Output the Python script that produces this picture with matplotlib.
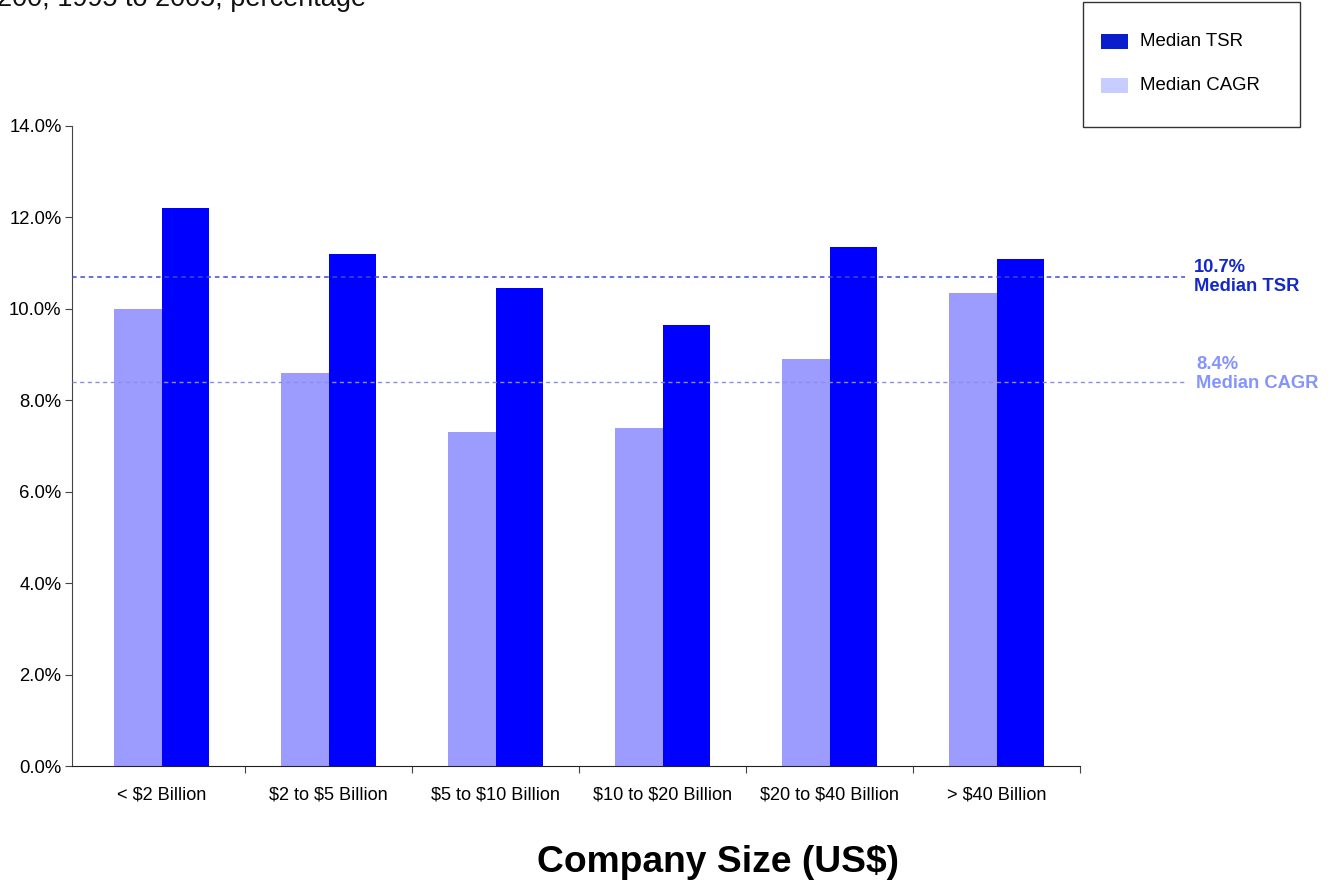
import matplotlib
matplotlib.use("Agg")
import matplotlib.pyplot as plt
import matplotlib.transforms as mtransforms
from matplotlib.patches import Rectangle
import numpy as np

plt.rcParams['font.family'] = ['Liberation Sans', 'DejaVu Sans']
plt.rcParams['text.parse_math'] = False

categories = ["< $2 Billion", "$2 to $5 Billion", "$5 to $10 Billion",
              "$10 to $20 Billion", "$20 to $40 Billion", "> $40 Billion"]
median_cagr = [10.0, 8.6, 7.3, 7.4, 8.9, 10.35]
median_tsr = [12.2, 11.2, 10.45, 9.65, 11.35, 11.1]
overall_tsr = 10.7
overall_cagr = 8.4
yticks = [0, 2, 4, 6, 8, 10, 12, 14]
legend_labels = ["Median TSR", "Median CAGR"]

W, H = 1329, 880
fig = plt.figure(figsize=(W / 100, H / 100), dpi=100)
ax = fig.add_axes([72 / W, 1 - 766 / H, 1008 / W, 640 / H])

x = np.arange(len(categories))
w = 0.284
ax.bar(x - w / 2, median_cagr, width=w, color="#9C9CFF", zorder=2)
ax.bar(x + w / 2, median_tsr, width=w, color="#0000FF", zorder=2)

ax.set_xlim(-0.536, len(categories) - 0.5)
ax.set_ylim(0, 14)

# reference lines for the overall medians, running past the plot area
trans = mtransforms.blended_transform_factory(ax.transAxes, ax.transData)
ax.plot([0, 1.104], [overall_tsr, overall_tsr], transform=trans, clip_on=False,
        ls=(0, (3, 2.5)), lw=1.1, color="#3A4BD0", zorder=3)
ax.plot([0, 1.104], [overall_cagr, overall_cagr], transform=trans, clip_on=False,
        ls=(0, (3, 2.5)), lw=1.0, color="#8A8EE8", zorder=3)
ax.text(1.113, overall_tsr, f"{overall_tsr:.1f}%\n{legend_labels[0]}", transform=trans,
        ha="left", va="center", fontsize=13.2, fontweight="bold",
        color="#1428C8", linespacing=1.12)
ax.text(1.115, overall_cagr + 0.17, f"{overall_cagr:.1f}%\n{legend_labels[1]}", transform=trans,
        ha="left", va="center", fontsize=13.2, fontweight="bold",
        color="#8494FF", linespacing=1.12)

# axes styling
for s in ("top", "right"):
    ax.spines[s].set_visible(False)
ax.spines["left"].set_color("#444444")
ax.spines["bottom"].set_color("#222222")
ax.set_yticks(yticks)
ax.set_yticklabels([f"{v:.1f}%" for v in yticks], fontsize=13.3)
ax.tick_params(axis="y", length=5, color="#444444", pad=2.5)

ax.set_xticks(np.arange(1, len(categories) + 1) - 0.5)
ax.set_xticklabels([])
ax.tick_params(axis="x", which="major", length=5, color="#444444")
ax.set_xticks(x, minor=True)
ax.set_xticklabels(categories, minor=True, fontsize=13.1)
ax.tick_params(axis="x", which="minor", length=0, pad=15)

fig.text(0.54, 8 / H, "Company Size (US$)", ha="center", va="baseline",
         fontsize=26.8, fontweight="bold")

fig.text(-0.002, 1 - 6 / H, "200, 1995 to 2005, percentage", ha="left",
         va="baseline", fontsize=19.5, color="#111111")

# legend box
fig.patches.append(Rectangle((1083 / W, 1 - 127 / H), 217 / W, 125 / H,
                             transform=fig.transFigure, facecolor="white",
                             edgecolor="#333333", lw=1.0))
legend_colors = ["#0A1ECC", "#C8CDFF"]
for i, (lab, col) in enumerate(zip(legend_labels, legend_colors)):
    yc = 42 + 44 * i
    fig.patches.append(Rectangle((1101 / W, 1 - (yc + 7) / H), 27 / W, 15 / H,
                                 transform=fig.transFigure, facecolor=col,
                                 edgecolor="none"))
    fig.text(1140 / W, 1 - yc / H, lab, ha="left", va="center", fontsize=13.4)

fig.savefig("out.png", dpi=100)
